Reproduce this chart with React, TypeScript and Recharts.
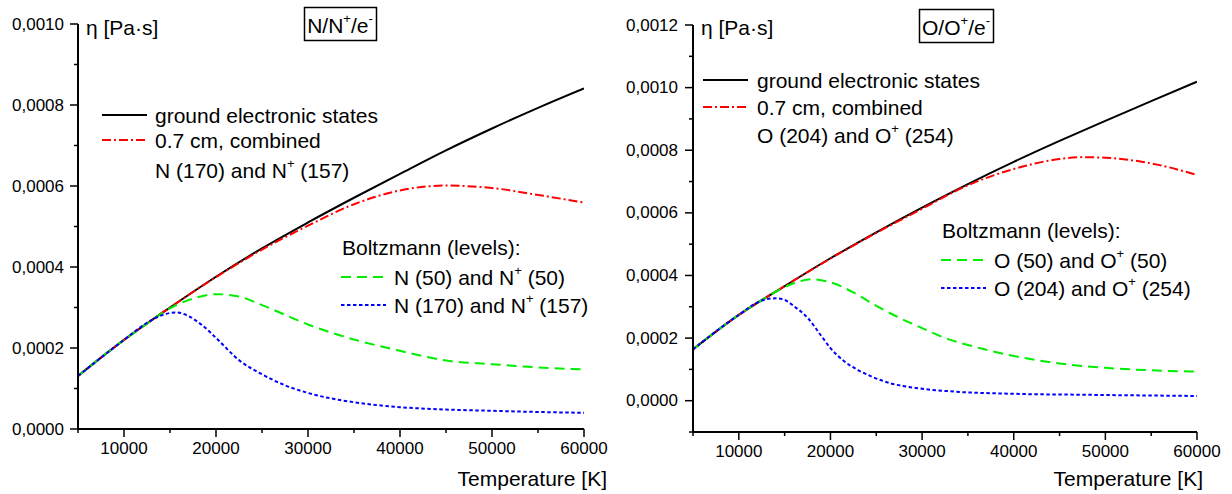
import React from 'react'
import { LineChart, Line, XAxis, YAxis } from 'recharts'

const FONT = '"Liberation Sans", Arial, Helvetica, sans-serif'

// shared x ticks (every 5000 K, labelled every 10000 K)
const xTicks = [5000, 10000, 15000, 20000, 25000, 30000, 35000, 40000, 45000, 50000, 55000, 60000]
const nYTicks = [0, 0.0001, 0.0002, 0.0003, 0.0004, 0.0005, 0.0006, 0.0007, 0.0008, 0.0009, 0.001]
const oYTicks = [-0.0001, 0, 0.0001, 0.0002, 0.0003, 0.0004, 0.0005, 0.0006, 0.0007, 0.0008, 0.0009, 0.001, 0.0011, 0.0012]

// ---- N/N+/e- ----
const nGroundT = [5000, 10000, 15000, 20000, 25000, 30000, 35000, 40000, 45000, 50000, 55000, 60000]
const nGroundV = [0.000131, 0.00022, 0.0003, 0.000376, 0.000446, 0.00051, 0.000571, 0.00063, 0.000688, 0.000742, 0.000793, 0.000841]

const nCombT = [5000, 10000, 15000, 20000, 25000, 30000, 35000, 40000, 45000, 50000, 55000, 60000]
const nCombV = [0.000131, 0.00022, 0.0003, 0.000375, 0.000443, 0.000502, 0.000555, 0.000589, 0.000601, 0.000595, 0.000578, 0.000559]

const nB50T = [5000, 10000, 12500, 15000, 17500, 20000, 22500, 25000, 27500, 30000, 35000, 40000, 45000, 50000, 55000, 60000]
const nB50V = [0.000131, 0.00022, 0.00026, 0.000298, 0.000322, 0.000333, 0.000327, 0.000306, 0.000282, 0.000258, 0.000221, 0.000193, 0.000169, 0.00016, 0.000152, 0.000147]

const nB170T = [5000, 10000, 12500, 14000, 15700, 17000, 18500, 20000, 22500, 25000, 27500, 30000, 35000, 40000, 45000, 50000, 55000, 60000]
const nB170V = [0.000131, 0.00022, 0.000262, 0.00028, 0.000288, 0.000279, 0.000256, 0.000225, 0.00017, 0.000135, 0.000108, 0.000089, 0.000066, 0.000054, 0.000048, 0.000045, 0.000042, 0.00004]

// ---- O/O+/e- ----
const oGroundT = [5000, 10000, 15000, 20000, 25000, 30000, 35000, 40000, 45000, 50000, 55000, 60000]
const oGroundV = [0.000164, 0.000274, 0.000366, 0.000455, 0.000538, 0.000617, 0.000692, 0.000763, 0.00083, 0.000894, 0.000957, 0.001019]

const oCombT = [5000, 10000, 15000, 20000, 25000, 30000, 35000, 40000, 45000, 47500, 50000, 55000, 60000]
const oCombV = [0.000164, 0.000274, 0.000366, 0.000454, 0.000536, 0.000613, 0.000688, 0.00074, 0.000772, 0.000778, 0.000776, 0.000758, 0.000721]

const oB50T = [5000, 10000, 13000, 15000, 16500, 18000, 20000, 22500, 25000, 27500, 30000, 33000, 35000, 40000, 45000, 50000, 55000, 60000]
const oB50V = [0.000164, 0.000274, 0.00033, 0.000363, 0.00038, 0.000388, 0.000378, 0.000346, 0.000303, 0.000265, 0.000232, 0.000195, 0.000178, 0.000143, 0.000119, 0.000105, 0.000097, 0.000093]

const oB204T = [5000, 10000, 12500, 14000, 15000, 16000, 17500, 19000, 20000, 21500, 23000, 24500, 26500, 29500, 33000, 40000, 47500, 60000]
const oB204V = [0.000164, 0.000274, 0.00032, 0.000327, 0.000322, 0.000302, 0.000265, 0.000207, 0.000168, 0.000126, 0.000098, 0.000077, 0.000056, 0.00004, 0.00003, 0.000022, 0.000019, 0.000015]

const pts = (t: number[], v: number[]) => t.map((x, i) => ({ t: x, v: v[i] }))

const STYLE = {
  ground: { stroke: '#000000', dash: undefined as string | undefined },
  comb: { stroke: '#ff0000', dash: '9 3 2 3' },
  b1: { stroke: '#00ee00', dash: '10 6' },
  b2: { stroke: '#0000ff', dash: '3.5 2.5' },
}

function YTick(props: any) {
  const { x, y, payload, gap } = props
  const v = payload.value as number
  const major = Math.round(v * 10000) % 2 === 0
  return (
    <g>
      <line x1={x - (major ? 8 : 4)} x2={x} y1={y} y2={y} stroke="#000" strokeWidth={1.5} />
      {major && (
        <text x={x - gap} y={y} textAnchor="end" dominantBaseline="central" fontSize={17} fontFamily={FONT} fill="#000">
          {v.toFixed(4).replace('.', ',')}
        </text>
      )}
    </g>
  )
}

function XTick(props: any) {
  const { x, y, payload } = props
  const v = payload.value as number
  const major = v % 10000 === 0
  return (
    <g>
      <line x1={x} x2={x} y1={y} y2={y + (major ? 8 : 4)} stroke="#000" strokeWidth={1.5} />
      {major && (
        <text x={x} y={y + 19} textAnchor="middle" dominantBaseline="central" fontSize={17} fontFamily={FONT} fill="#000">
          {v}
        </text>
      )}
    </g>
  )
}

function Panel(props: {
  left: number
  margin: { top: number; right: number; bottom: number; left: number }
  yWidth: number
  xHeight: number
  yDomain: [number, number]
  yTicks: number[]
  gap: number
  series: { key: string; data: { t: number; v: number }[]; style: { stroke: string; dash?: string } }[]
}) {
  return (
    <div style={{ position: 'absolute', left: props.left, top: 0 }}>
      <LineChart width={616} height={494} margin={props.margin}>
        <XAxis
          dataKey="t" type="number" domain={[5000, 60000]} ticks={xTicks} interval={0}
          allowDataOverflow height={props.xHeight} tickSize={0} tickMargin={0} tickLine={false}
          axisLine={{ stroke: '#000', strokeWidth: 2 }}
          tick={(p: any) => <XTick {...p} />}
        />
        <YAxis
          type="number" domain={props.yDomain} ticks={props.yTicks} interval={0}
          allowDataOverflow width={props.yWidth} tickSize={0} tickMargin={0} tickLine={false}
          axisLine={{ stroke: '#000', strokeWidth: 2 }}
          tick={(p: any) => <YTick {...p} gap={props.gap} />}
        />
        {props.series.map((s) => (
          <Line
            key={s.key} data={s.data} dataKey="v" type="monotone"
            stroke={s.style.stroke} strokeWidth={2} strokeDasharray={s.style.dash}
            dot={false} activeDot={false} isAnimationActive={false}
          />
        ))}
      </LineChart>
    </div>
  )
}

// text with ^x superscripts
function Rich({ text, x, y, size = 21, anchor = 'start' }: { text: string; x: number; y: number; size?: number; anchor?: string }) {
  const parts = text.split(/(\^.)/).filter(Boolean)
  let raised = false
  return (
    <text x={x} y={y} fontSize={size} fontFamily={FONT} fill="#000" dominantBaseline="central" textAnchor={anchor as any}>
      {parts.map((p, i) => {
        if (p.startsWith('^')) {
          raised = true
          return <tspan key={i} dy={-7} fontSize={13}>{p[1]}</tspan>
        }
        const dy = raised ? 7 : 0
        raised = false
        return <tspan key={i} dy={dy}>{p}</tspan>
      })}
    </text>
  )
}

function Key({ x, y, style }: { x: number; y: number; style: { stroke: string; dash?: string } }) {
  return <line x1={x} x2={x + 45} y1={y} y2={y} stroke={style.stroke} strokeWidth={2} strokeDasharray={style.dash} />
}

export default function App() {
  return (
    <div style={{ position: 'absolute', left: 0, top: 0, width: 1232, height: 494, background: '#fff', overflow: 'hidden' }}>
      <Panel
        left={0}
        margin={{ top: 24, right: 32, bottom: 0, left: 0 }}
        yWidth={78} xHeight={65}
        yDomain={[0, 0.001]} yTicks={nYTicks} gap={14}
        series={[
          { key: 'g', data: pts(nGroundT, nGroundV), style: STYLE.ground },
          { key: 'c', data: pts(nCombT, nCombV), style: STYLE.comb },
          { key: 'b1', data: pts(nB50T, nB50V), style: STYLE.b1 },
          { key: 'b2', data: pts(nB170T, nB170V), style: STYLE.b2 },
        ]}
      />
      <Panel
        left={616}
        margin={{ top: 25, right: 35, bottom: 0, left: 0 }}
        yWidth={77} xHeight={62}
        yDomain={[-0.0001, 0.0012]} yTicks={oYTicks} gap={15}
        series={[
          { key: 'g', data: pts(oGroundT, oGroundV), style: STYLE.ground },
          { key: 'c', data: pts(oCombT, oCombV), style: STYLE.comb },
          { key: 'b1', data: pts(oB50T, oB50V), style: STYLE.b1 },
          { key: 'b2', data: pts(oB204T, oB204V), style: STYLE.b2 },
        ]}
      />
      <svg width={1232} height={494} style={{ position: 'absolute', left: 0, top: 0, pointerEvents: 'none' }}>
        {/* left panel annotations */}
        <Rich text="η [Pa·s]" x={86} y={27} />
        <rect x={304.5} y={7.5} width={72} height={33} fill="none" stroke="#000" strokeWidth={1.5} />
        <Rich text="N/N^+/e^-" x={340} y={25} anchor="middle" />
        <Key x={102} y={115} style={STYLE.ground} />
        <Rich text="ground electronic states" x={155} y={115} />
        <Key x={102} y={140} style={STYLE.comb} />
        <Rich text="0.7 cm, combined" x={155} y={140} />
        <Rich text="N (170) and N^+ (157)" x={155} y={170} />
        <Rich text="Boltzmann (levels):" x={342} y={247} />
        <Key x={341} y={277} style={STYLE.b1} />
        <Rich text="N (50) and N^+ (50)" x={394} y={277} />
        <Key x={341} y={305} style={STYLE.b2} />
        <Rich text="N (170) and N^+ (157)" x={394} y={305} />
        <Rich text="Temperature [K]" x={607} y={478} anchor="end" />

        {/* right panel annotations */}
        <Rich text="η [Pa·s]" x={701} y={27} />
        <rect x={919.5} y={9.5} width={74} height={33} fill="none" stroke="#000" strokeWidth={1.5} />
        <Rich text="O/O^+/e^-" x={956} y={27} anchor="middle" />
        <Key x={703} y={80} style={STYLE.ground} />
        <Rich text="ground electronic states" x={757} y={80} />
        <Key x={703} y={107} style={STYLE.comb} />
        <Rich text="0.7 cm, combined" x={757} y={107} />
        <Rich text="O (204) and O^+ (254)" x={757} y={135} />
        <Rich text="Boltzmann (levels):" x={942} y={230} />
        <Key x={941} y={260} style={STYLE.b1} />
        <Rich text="O (50) and O^+ (50)" x={994} y={260} />
        <Key x={941} y={288} style={STYLE.b2} />
        <Rich text="O (204) and O^+ (254)" x={994} y={288} />
        <Rich text="Temperature [K]" x={1203} y={478} anchor="end" />
      </svg>
    </div>
  )
}
